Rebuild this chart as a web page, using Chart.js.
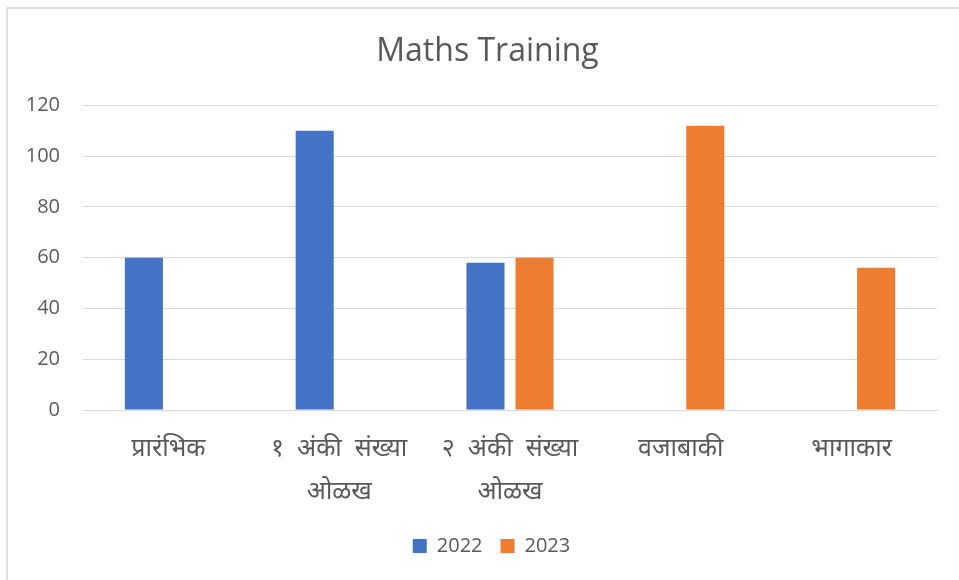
<!DOCTYPE html>
<html>
<head>
<meta charset="utf-8">
<script src="https://cdn.jsdelivr.net/npm/chart.js@4.4.1/dist/chart.umd.min.js"></script>
<style>
  html, body { margin: 0; padding: 0; background: #ffffff; overflow: hidden; }
  #wrap { position: relative; width: 959px; height: 580px; }
  #frame { position: absolute; left: 6px; top: 7px; width: 1000px; height: 1000px; border: 2px solid #e0e0e0; box-sizing: border-box; pointer-events: none; }
  canvas { position: absolute; left: 0; top: 0; }
</style>
</head>
<body>
<div id="wrap">
  <canvas id="c" width="959" height="580"></canvas>
  <div id="frame"></div>
</div>
<script>
const categories = [
  'प्रारंभिक',
  ['१  अंकी  संख्या', 'ओळख'],
  ['२  अंकी  संख्या', 'ओळख'],
  'वजाबाकी',
  'भागाकार'
];
const seriesNames = ['2022', '2023'];
const values2022 = [60, 110, 58, null, null];
const values2023 = [null, null, 60, 112, 56];
const yTicks = [0, 20, 40, 60, 80, 100, 120];

const textColor = '#595959';
const gridColor = '#d9d9d9';
const fontFamily = "'Open Sans', 'Noto Sans', 'Noto Sans Devanagari', sans-serif";

// shifts the title and legend blocks horizontally so they centre like the original
const shiftPlugin = {
  id: 'shiftBlocks',
  afterLayout(chart) {
    if (chart.legend) { chart.legend.left = 46; }
    if (chart.titleBlock) { chart.titleBlock.left = 38; }
  }
};

new Chart(document.getElementById('c'), {
  type: 'bar',
  data: {
    labels: categories,
    datasets: [
      { label: seriesNames[0], data: values2022, backgroundColor: '#4472C4', borderWidth: 0,
        categoryPercentage: 0.574, barPercentage: 0.776 },
      { label: seriesNames[1], data: values2023, backgroundColor: '#ED7D31', borderWidth: 0,
        categoryPercentage: 0.574, barPercentage: 0.776 }
    ]
  },
  plugins: [shiftPlugin],
  options: {
    responsive: false,
    animation: false,
    devicePixelRatio: 1,
    layout: { padding: { left: 0, right: 22, top: 0, bottom: 14 } },
    plugins: {
      title: {
        display: true,
        text: 'Maths Training',
        color: textColor,
        font: { family: fontFamily, size: 32, weight: 'normal', lineHeight: 1.2 },
        padding: { top: 33, bottom: 34 }
      },
      legend: {
        display: true,
        position: 'bottom',
        labels: {
          color: textColor,
          font: { family: fontFamily, size: 20 },
          boxWidth: 14,
          boxHeight: 14,
          padding: 18,
          useBorderRadius: false
        }
      },
      tooltip: { enabled: false }
    },
    scales: {
      x: {
        afterFit: (axis) => { axis.height = 108; },
        grid: { display: false, drawTicks: false },
        border: { display: true, color: gridColor, width: 1 },
        ticks: {
          color: textColor,
          font: { family: fontFamily, size: 25, lineHeight: 1.72 },
          padding: 17,
          maxRotation: 0,
          autoSkip: false
        }
      },
      y: {
        min: 0,
        max: 120,
        afterBuildTicks: (axis) => { axis.ticks = yTicks.map(v => ({ value: v })); },
        afterFit: (axis) => { axis.width = 83; },
        grid: { color: gridColor, lineWidth: 1, drawTicks: false },
        border: { display: false },
        ticks: {
          color: textColor,
          font: { family: fontFamily, size: 20 },
          padding: 23
        }
      }
    }
  }
});
</script>
</body>
</html>
